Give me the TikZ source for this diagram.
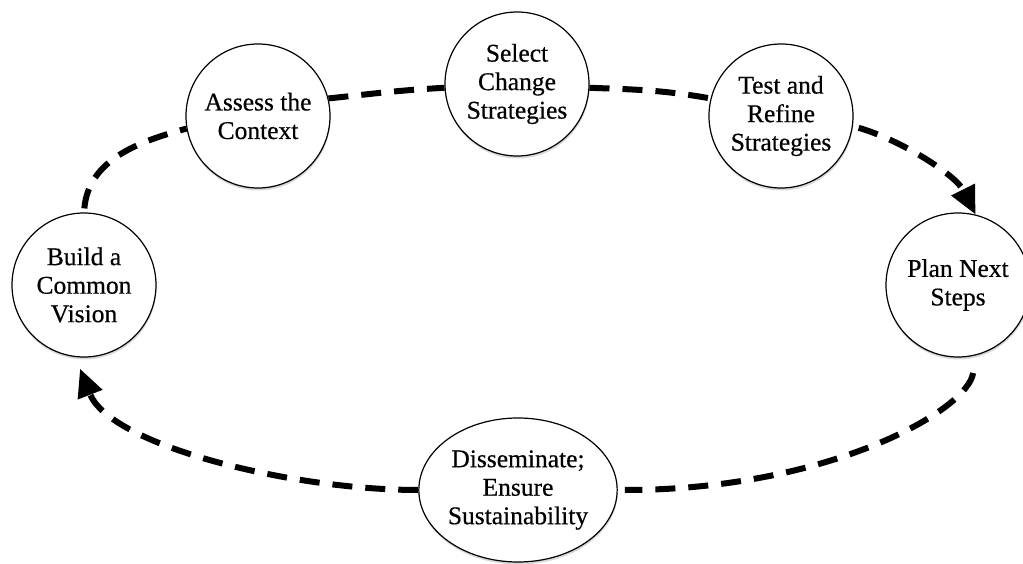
\documentclass[tikz,border=0pt]{standalone}
\usepackage{fontspec}
\setmainfont[FakeBold=0.5]{Liberation Serif}
\usetikzlibrary{arrows.meta,shadows,shapes.geometric}
\begin{document}
\begin{tikzpicture}[x=1pt,y=1pt,
  stage/.style={circle,draw=black,line width=1.2pt,fill=white,minimum size=144pt,inner sep=0pt,align=center,
    font=\fontsize{25.5}{28.5}\selectfont,
    drop shadow={shadow xshift=0.5pt,shadow yshift=-2.5pt,opacity=0.3}},
  link/.style={line width=6pt,dash pattern=on 20pt off 13pt},
  tip/.style={-{Triangle[length=28pt,width=25pt]}}]
\useasboundingbox (0,0) rectangle (1023,563);
\node[stage] (build) at (84,278) {Build a\\Common\\Vision};
\node[stage] (assess) at (258,447) {Assess the\\Context};
\node[stage] (select) at (517,479) {Select\\Change\\Strategies};
\node[stage] (test) at (781,447) {Test and\\Refine\\Strategies};
\node[stage] (plan) at (958,278) {Plan Next\\Steps};
\node[stage,ellipse,minimum width=182pt,minimum height=144pt] (diss) at (518,73) {Disseminate;\\Ensure\\Sustainability};
\draw[link,shorten <=4pt] (build.north) to[out=85,in=195] (assess.190);
\draw[link] (assess.14) to[out=6,in=183] (select.183);
\draw[link] (select.-3) to[out=-2,in=170] (test.166);
\draw[link,tip,shorten <=6pt] (test.-8) .. controls +(48,-14) and +(-20,40) .. (plan.76);
\draw[link] ([yshift=-17pt]plan.-78) .. controls +(-5,-37) and +(204,0) .. ([xshift=7pt]diss.east);
\draw[link,tip] (diss.west) .. controls +(-127,0) and +(30,-77) .. ([shift={(-4pt,-11pt)}]build.south);
\end{tikzpicture}
\end{document}
